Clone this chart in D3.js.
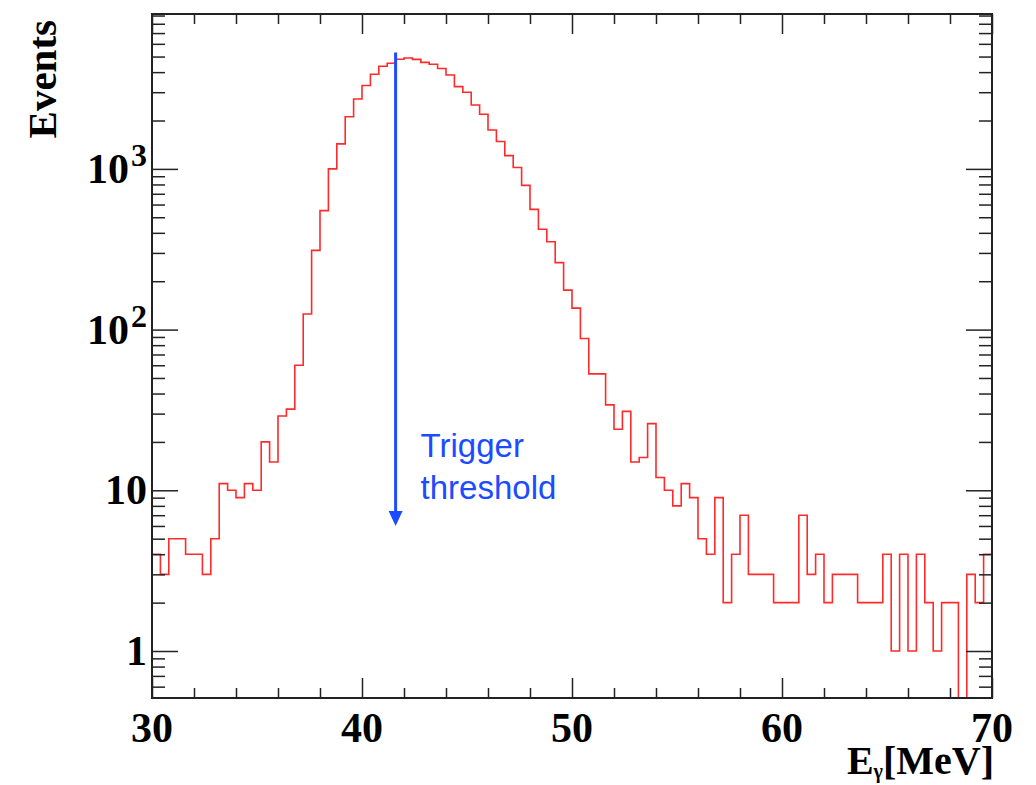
<!DOCTYPE html>
<html><head><meta charset="utf-8">
<script src="https://cdn.jsdelivr.net/npm/d3@7"></script>
<style>body{margin:0;background:#fff}svg{display:block}</style>
</head><body>
<svg id="c" width="1036" height="785"></svg>
<script>
// ---- data ----
const binLow = 30, binHigh = 70;
const counts = [4,3,5,5,4,4,3,5,11,10,
  9,11,10,20,15,29,32,60,125,311,
  550,1000,1430,2110,2720,3300,3880,4350,4540,4810,
  4900,4800,4600,4480,4210,3840,3250,3000,2500,2190,
  1745,1480,1210,1020,790,560,421,352,261,176,
  136,88,53,53,34,24,31,15,16,26,
  12,10,8,11,9,5,4,9,2,4,
  7,3,3,3,2,2,2,7,3,4,
  2,3,3,3,2,2,2,4,1,4,
  1,4,2,1,2,2,0,3,2,4];
const xMajorTicks = [30,40,50,60,70];
const xTickLabels = ["30","40","50","60","70"];
const yMajorTicks = [1,10,100,1000];
const yTickBase = ["1","10","10","10"];
const yTickExp = ["","","2","3"];
const yDomain = [0.51, 9200];
const thresholdEnergy = 41.6;
const arrowFrom = 5300, arrowTo = 6;
const annotationLines = ["Trigger","threshold"];
const xTitle = ["E","γ","[MeV]"];
const yTitle = "Events";

// ---- layout ----
const L = 152, R = 992, T = 14, B = 698;
const svg = d3.select("#c");
const x = d3.scaleLinear().domain([binLow, binHigh]).range([L, R]);
const y = d3.scaleLog().domain(yDomain).range([B, T]);
const nb = counts.length, bw = (binHigh - binLow) / nb;

svg.append("defs").append("clipPath").attr("id","clip")
  .append("rect").attr("x",L).attr("y",T).attr("width",R-L).attr("height",B-T);

// histogram
const pts = counts.map((c,i)=>({e: binLow + i*bw, v: c}));
pts.push({e: binHigh, v: counts[nb-1]});
const line = d3.line().curve(d3.curveStepAfter)
  .x(d=>x(d.e)).y(d=>y(Math.max(d.v, yDomain[0])));
svg.append("path").attr("clip-path","url(#clip)")
  .attr("d", line(pts)).attr("fill","none")
  .attr("stroke","#ff2a2a").attr("stroke-width",1.6);

// ticks
const axCol = "#222";
const xMinor = d3.range(binLow, binHigh + 0.001, 2).filter(v=>!xMajorTicks.includes(v));
const yMinor = [];
for (let e=-1; e<=3; e++) for (let k=2;k<=9;k++){ const v=k*Math.pow(10,e); if (v>=yDomain[0] && v<=yDomain[1]) yMinor.push(v); }

function addAxis(gen, tr){
  const g = svg.append("g").attr("transform", tr).call(gen);
  g.select(".domain").remove();
  g.selectAll("line").attr("stroke", axCol).attr("stroke-width",1.5);
  g.selectAll("text").remove();
}
addAxis(d3.axisBottom(x).tickValues(xMajorTicks).tickSize(-20), `translate(0,${B})`);
addAxis(d3.axisBottom(x).tickValues(xMinor).tickSize(-10), `translate(0,${B})`);
addAxis(d3.axisTop(x).tickValues(xMajorTicks).tickSize(-20), `translate(0,${T})`);
addAxis(d3.axisTop(x).tickValues(xMinor).tickSize(-10), `translate(0,${T})`);
addAxis(d3.axisLeft(y).tickValues(yMajorTicks).tickSize(-26), `translate(${L},0)`);
addAxis(d3.axisLeft(y).tickValues(yMinor).tickSize(-13), `translate(${L},0)`);
addAxis(d3.axisRight(y).tickValues(yMajorTicks).tickSize(-26), `translate(${R},0)`);
addAxis(d3.axisRight(y).tickValues(yMinor).tickSize(-13), `translate(${R},0)`);

// frame
svg.append("rect").attr("x",L).attr("y",T).attr("width",R-L).attr("height",B-T)
  .attr("fill","none").attr("stroke",axCol).attr("stroke-width",2);

// labels
const font = "'Liberation Serif','Times New Roman',serif";
svg.append("g").selectAll("text").data(xMajorTicks).join("text")
  .attr("x", d=>x(d)).attr("y", 742)
  .attr("text-anchor","middle").attr("font-family",font).attr("font-weight","bold")
  .attr("font-size",42).text((d,i)=>xTickLabels[i]);

const yl = svg.append("g").selectAll("text").data(yMajorTicks).join("text")
  .attr("x", 147).attr("y", d=>y(d)+14)
  .attr("text-anchor","end").attr("font-family",font).attr("font-weight","bold")
  .attr("font-size",42);
yl.append("tspan").text((d,i)=>yTickBase[i]);
yl.append("tspan").attr("dx",(d,i)=>yTickExp[i]?2:0).attr("dy",-17).attr("font-size",32).text((d,i)=>yTickExp[i]);

// axis titles
svg.append("text").attr("transform","translate(56,20) rotate(-90)")
  .attr("text-anchor","end").attr("font-family",font).attr("font-weight","bold")
  .attr("font-size",41).text(yTitle);
const xt = svg.append("text").attr("x",994).attr("y",774).attr("text-anchor","end")
  .attr("font-family",font).attr("font-weight","bold").attr("font-size",40);
xt.append("tspan").text(xTitle[0]);
xt.append("tspan").attr("dy",4).attr("font-size",20).text(xTitle[1]);
xt.append("tspan").attr("dy",-4).text(xTitle[2]);

// arrow
const blue = "#1c4cff";
const ax = x(thresholdEnergy), ay0 = y(arrowFrom), ay1 = y(arrowTo);
svg.append("line").attr("x1",ax).attr("x2",ax).attr("y1",ay0).attr("y2",ay1-12)
  .attr("stroke",blue).attr("stroke-width",3);
svg.append("path").attr("d",`M${ax-7},${ay1-15} L${ax+7},${ay1-15} L${ax},${ay1} Z`).attr("fill",blue);
svg.append("g").selectAll("text").data(annotationLines).join("text")
  .attr("x", ax+25).attr("y",(d,i)=>457+i*42)
  .attr("font-family","'Liberation Sans',Arial,sans-serif").attr("font-size",33)
  .attr("fill",blue).text(d=>d);
</script>
</body></html>
